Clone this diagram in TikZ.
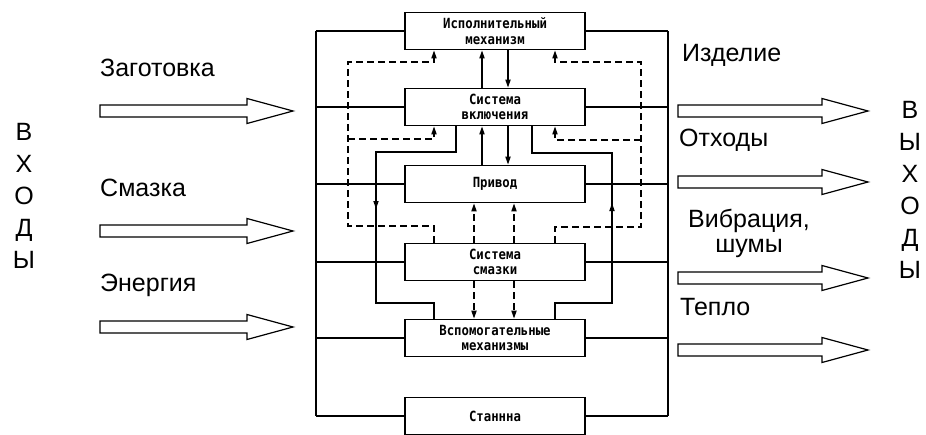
\documentclass[tikz,border=0pt]{standalone}
\usepackage{fontspec}
\setmainfont{Liberation Sans}
\newfontfamily\boxfont[FakeStretch=0.88]{DejaVu Sans Mono}
\usetikzlibrary{arrows.meta}

\tikzset{
    unit/.style={draw, line width=1.6pt, minimum width=180pt, minimum height=37pt,
        inner sep=0pt, align=center, font=\boxfont\bfseries\fontsize{14}{15.5}\selectfont},
    link/.style={line width=1.6pt},
    flow/.style={line width=1.6pt, -{Triangle[length=8pt,width=5pt]}},
    ctrl/.style={line width=1.5pt, dash pattern=on 7pt off 4pt},
    bigarrow/.style={draw, line width=1.2pt, line join=miter},
    label/.style={font=\fontsize{25}{30}\selectfont, inner sep=0pt},
    letters/.style={font=\fontsize{25}{32}\selectfont, align=center, inner sep=0pt},
}

\begin{document}
\begin{tikzpicture}[x=1pt, y=-1pt]
    \useasboundingbox (0,0) rectangle (926,434);

    % blocks of the machine
    \node[unit] (box1) at (495,31)  {Исполнительный\\механизм};
    \node[unit] (box2) at (495,107) {Система\\включения};
    \node[unit] (box3) at (495,184) {Привод};
    \node[unit] (box4) at (495,262) {Система\\смазки};
    \node[unit] (box5) at (495,338) {Вспомогательные\\механизмы};
    \node[unit] (box6) at (495,416) {Станнна};

    % outer rails
    \coordinate (lbus) at (316,0);
    \coordinate (rbus) at (668,0);
    \foreach \b in {1,...,6} {
        \draw[link] (box\b.west) -- (box\b.west -| lbus);
        \draw[link] (box\b.east) -- (box\b.east -| rbus);
    }
    \draw[link] (box1.west -| lbus) -- (box6.west -| lbus);
    \draw[link] (box1.east -| rbus) -- (box6.east -| rbus);

    % direct links
    \draw[flow] ([xshift=-13pt]box2.north) -- ([xshift=-13pt]box1.south);
    \draw[flow] ([xshift=13pt]box1.south) -- ([xshift=13pt]box2.north);
    \draw[flow] ([xshift=-13pt]box3.north) -- ([xshift=-13pt]box2.south);
    \draw[flow] ([xshift=13pt]box2.south) -- ([xshift=13pt]box3.north);

    % solid loops between switching and auxiliary
    \draw[flow] ([xshift=-39pt]box2.south) |- (376,152) -- (376,209);
    \draw[link] (376,205) |- (434,303) -- ([xshift=-61pt]box5.north);
    \draw[flow] ([xshift=60pt]box5.north) |- (612,303) -- (612,203);
    \draw[link] (612,207) |- (532,153) -- ([xshift=37pt]box2.south);

    % lubrication (dashed)
    \draw[ctrl, flow] ([xshift=-21pt]box4.north) -- ([xshift=-21pt]box3.south);
    \draw[ctrl, flow] ([xshift=19pt]box4.north) -- ([xshift=19pt]box3.south);
    \draw[ctrl, flow] ([xshift=-21pt]box4.south) -- ([xshift=-21pt]box5.north);
    \draw[ctrl, flow] ([xshift=19pt]box4.south) -- ([xshift=19pt]box5.north);

    \draw[ctrl, flow] ([xshift=-61pt]box4.north) |- (348,226) -- (348,62) -| ([xshift=-61pt]box1.south);
    \draw[ctrl, flow] (348,139) -| ([xshift=-61pt]box2.south);
    \draw[ctrl, flow] ([xshift=60pt]box4.north) |- (641,227) -- (641,62) -| ([xshift=60pt]box1.south);
    \draw[ctrl, flow] (641,140) -| ([xshift=60pt]box2.south);

    % inputs
    \foreach \y in {111,231,327}
        \draw[bigarrow] (100,\y-6) -- (247,\y-6) -- (247,\y-12.5) -- (293,\y)
            -- (247,\y+12.5) -- (247,\y+6) -- (100,\y+6) -- cycle;
    \node[label, anchor=west] (blank) at (100,68)  {Заготовка};
    \node[label, anchor=west] (grease) at (100,188) {Смазка};
    \node[label, anchor=west] (power) at (100,285) {Энергия};
    \node[letters] (inputs) at (24,196) {В\\Х\\О\\Д\\Ы};

    % outputs
    \foreach \y in {111,182,278,350}
        \draw[bigarrow] (678,\y-6) -- (822,\y-6) -- (822,\y-12.5) -- (868,\y)
            -- (822,\y+12.5) -- (822,\y+6) -- (678,\y+6) -- cycle;
    \node[label, anchor=west] (product) at (682,55)  {Изделие};
    \node[label, anchor=west] (waste) at (679,140) {Отходы};
    \node[label, align=center, font=\fontsize{25}{25}\selectfont] (noise) at (749,233) {Вибрация,\\шумы};
    \node[label, anchor=west] (heat) at (680,307) {Тепло};
    \node[letters] (outputs) at (910,190) {В\\Ы\\Х\\О\\Д\\Ы};
\end{tikzpicture}
\end{document}
